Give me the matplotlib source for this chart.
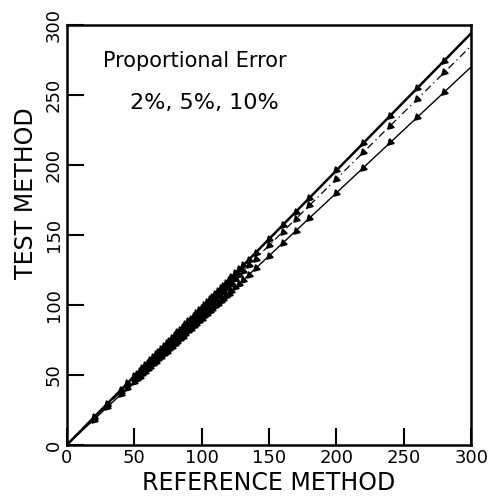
import matplotlib
matplotlib.use("Agg")
import matplotlib.pyplot as plt
import numpy as np

# Data
reference_values = [20, 30, 40, 45, 50, 52, 54, 56, 58, 60, 62, 64, 66, 68, 70,
                    72, 74, 76, 78, 80, 82, 84, 86, 88, 90, 92, 94, 96, 98, 100,
                    102, 104, 106, 108, 110, 112, 114, 116, 118, 120, 122, 125,
                    128, 131, 135, 140, 150, 160, 170, 180, 200, 220, 240, 260, 280]
error_percent = [2, 5, 10]
line_styles = ["-", (0, (6, 3, 1, 3)), "-"]
line_widths = [1.8, 0.9, 1.0]
x_ticks = [0, 50, 100, 150, 200, 250, 300]
y_ticks = [0, 50, 100, 150, 200, 250, 300]

fig = plt.figure(figsize=(4.95, 4.96), dpi=100)
ax = fig.add_axes([0.135, 0.103, 0.817, 0.847])

xr = np.array(reference_values, dtype=float)
for p, ls, lw in zip(error_percent, line_styles, line_widths):
    f = 1 - p / 100.0
    ax.plot([0, 300], [0, 300 * f], color="black", linestyle=ls, linewidth=lw)
    ax.plot(xr, xr * f, linestyle="none", marker=(3, 0, 135), markersize=5.5,
            color="black")

ax.set_xlim(0, 300)
ax.set_ylim(0, 300)
ax.set_xticks(x_ticks)
ax.set_yticks(y_ticks)
ax.set_xticklabels([str(t) for t in x_ticks], fontsize=13)
ax.set_yticklabels([str(t) for t in y_ticks], fontsize=13, rotation=90, va="center")
ax.tick_params(direction="in", length=12, width=1.5, top=False, right=False, pad=3)
for s in ax.spines.values():
    s.set_linewidth(1.8)

ax.set_xlabel("REFERENCE METHOD", fontsize=17, labelpad=3)
ax.set_ylabel("TEST METHOD", fontsize=17)
ax.yaxis.set_label_coords(-0.072, 0.60)

ax.text(0.09, 0.915, "Proportional Error", transform=ax.transAxes, fontsize=15,
        ha="left", va="center")
ax.text(0.155, 0.815, "2%, 5%, 10%", transform=ax.transAxes, fontsize=16,
        ha="left", va="center")

fig.savefig("out.png", dpi=100)
